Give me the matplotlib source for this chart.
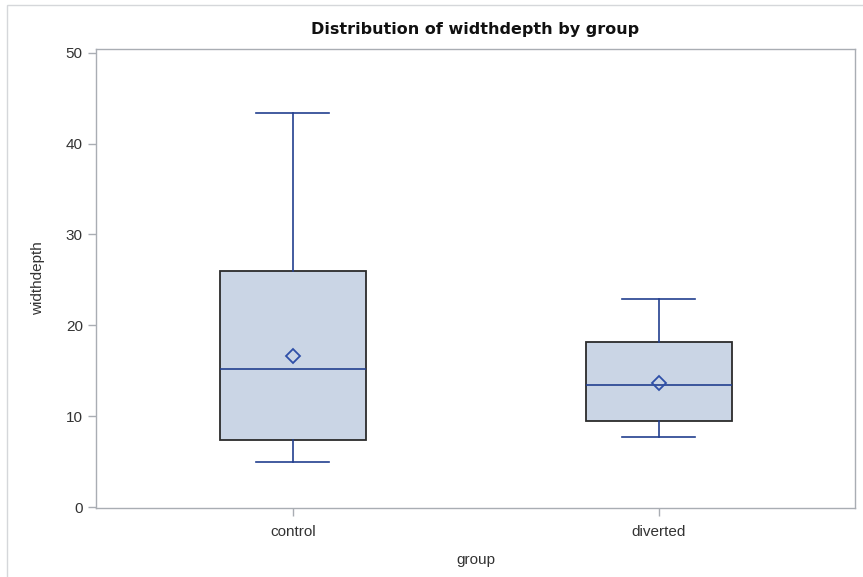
import matplotlib
matplotlib.use("Agg")
import matplotlib.pyplot as plt
from matplotlib.patches import Rectangle

plt.rcParams["font.family"] = ["Liberation Sans", "DejaVu Sans"]

groups = ["control", "diverted"]
whislo = [5.0, 7.7]
q1 = [7.4, 9.5]
median = [15.2, 13.4]
mean = [16.6, 13.6]
q3 = [26.0, 18.2]
whishi = [43.4, 22.9]

BOX_FILL = "#CAD5E5"
BOX_EDGE = "#2B2B2B"
LINE = "#233F8F"
AXIS_GREY = "#A9ADB3"
TEXT = "#333333"

stats = []
for i, g in enumerate(groups):
    stats.append({
        "label": g, "whislo": whislo[i], "q1": q1[i], "med": median[i],
        "mean": mean[i], "q3": q3[i], "whishi": whishi[i], "fliers": [],
    })

fig = plt.figure(figsize=(8.63, 5.77), dpi=100)
ax = fig.add_axes([0.1112, 0.1196, 0.8795, 0.7955])

ax.bxp(
    stats, positions=range(len(groups)), widths=0.40, showmeans=True,
    patch_artist=True, manage_ticks=False,
    boxprops=dict(facecolor=BOX_FILL, edgecolor=BOX_EDGE, linewidth=1.3),
    whiskerprops=dict(color=LINE, linewidth=1.2),
    capprops=dict(color=LINE, linewidth=1.2),
    medianprops=dict(color=LINE, linewidth=1.2),
    meanprops=dict(marker="D", markerfacecolor="none", markeredgecolor="#2E4FA8",
                   markersize=7, markeredgewidth=1.3),
    capwidths=0.20,
)

ax.set_xlim(-0.538, 1.536)
ax.set_ylim(-0.1, 50.4)
ax.set_xticks(range(len(groups)))
ax.set_xticklabels(groups)
ax.set_yticks([0, 10, 20, 30, 40, 50])

for s in ax.spines.values():
    s.set_color(AXIS_GREY)
    s.set_linewidth(1.0)
ax.tick_params(colors=AXIS_GREY, labelcolor=TEXT, labelsize=11, length=6, width=1)
ax.tick_params(axis="x", pad=6)

ax.set_xlabel("group", fontsize=11, color=TEXT, labelpad=10)
ax.set_ylabel("widthdepth", fontsize=11, color=TEXT, labelpad=15)
ax.set_title("Distribution of widthdepth by group", fontsize=11.5,
             fontweight="bold", family="DejaVu Sans", color="#111111", pad=11)

# outer frame like the SAS output border
fig.patches.append(Rectangle((7 / 863, -0.01), 1.0, 1 - 5 / 577 + 0.01,
                             transform=fig.transFigure, fill=False,
                             edgecolor="#D5D7DA", linewidth=1.0))

fig.savefig("out.png", dpi=100)
